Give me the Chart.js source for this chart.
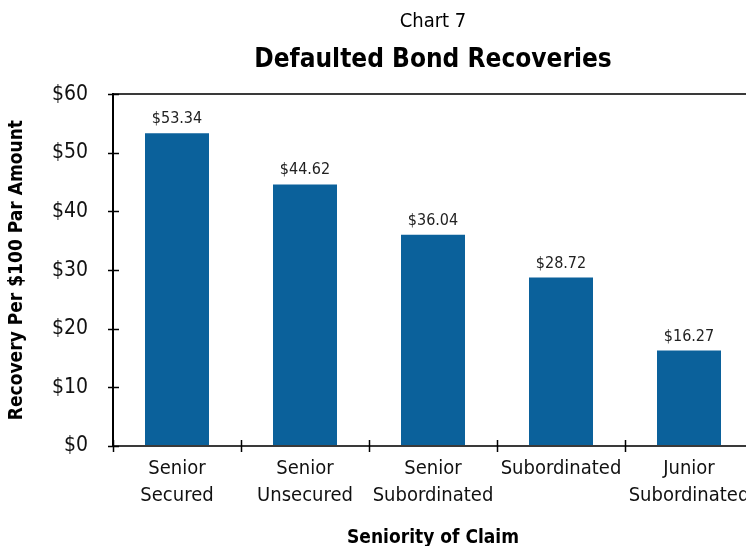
<!DOCTYPE html>
<html>
<head>
<meta charset="utf-8">
<title>Defaulted Bond Recoveries</title>
<script src="https://cdn.jsdelivr.net/npm/chart.js@4/dist/chart.umd.min.js"></script>
<style>
  html, body { margin: 0; padding: 0; background: #fff; overflow: hidden; }
  #wrap { width: 746px; height: 546px; overflow: hidden; position: relative; }
  canvas { display: block; }
</style>
</head>
<body>
<div id="wrap"><canvas id="chart" width="866" height="560"></canvas></div>
<script>
// Recovery per $100 par amount by seniority of claim
const categories = [
  ['Senior', 'Secured'],
  ['Senior', 'Unsecured'],
  ['Senior', 'Subordinated'],
  'Subordinated',
  ['Junior', 'Subordinated']
];
const recoveries = [53.34, 44.62, 36.04, 28.72, 16.27];
const yTicks = [0, 10, 20, 30, 40, 50, 60];

const FONT = "'Liberation Sans Narrow', 'Arial Narrow', 'DejaVu Sans Condensed', sans-serif";
const BAR_BLUE = '#0B619B';
const AXIS_DARK = '#3a3a3a';

// Tick marks that cross the axis lines on both sides
const crossTicks = {
  id: 'crossTicks',
  afterDraw(chart) {
    const { ctx } = chart;
    const xs = chart.scales.x, ys = chart.scales.y;
    ctx.save();
    ctx.strokeStyle = '#000';
    ctx.lineWidth = 1.5;
    const axisX = chart.chartArea.left;
    ys.ticks.forEach(t => {
      const y = Math.round(ys.getPixelForValue(t.value)) + 0.5;
      ctx.beginPath();
      ctx.moveTo(axisX - 5, y);
      ctx.lineTo(axisX + 6, y);
      ctx.stroke();
    });
    const axisY = chart.chartArea.bottom;
    const w = xs.getPixelForValue(1) - xs.getPixelForValue(0);
    for (let i = 0; i <= categories.length; i++) {
      const x = Math.round(xs.getPixelForValue(0) - w / 2 + i * w) + 0.5;
      ctx.beginPath();
      ctx.moveTo(x, axisY - 6);
      ctx.lineTo(x, axisY + 6);
      ctx.stroke();
    }
    ctx.restore();
  }
};

// Dollar value printed above each bar
const valueLabels = {
  id: 'valueLabels',
  afterDatasetsDraw(chart) {
    const { ctx } = chart;
    const meta = chart.getDatasetMeta(0);
    ctx.save();
    ctx.font = '16px ' + FONT;
    ctx.fillStyle = '#222';
    ctx.textAlign = 'center';
    ctx.textBaseline = 'alphabetic';
    meta.data.forEach((bar, i) => {
      ctx.fillText('$' + recoveries[i].toFixed(2), bar.x, bar.y - 10);
    });
    ctx.restore();
  }
};

new Chart(document.getElementById('chart'), {
  type: 'bar',
  data: {
    labels: categories,
    datasets: [{
      data: recoveries,
      backgroundColor: BAR_BLUE,
      borderWidth: 0,
      categoryPercentage: 1.0,
      barPercentage: 0.5
    }]
  },
  options: {
    responsive: false,
    animation: false,
    devicePixelRatio: 1,
    layout: { padding: { left: 0, right: 113, top: 0, bottom: 0 } },
    plugins: {
      legend: { display: false },
      tooltip: { enabled: false },
      title: {
        display: true,
        fullSize: false,
        text: 'Chart 7',
        color: '#000',
        font: { family: FONT, size: 20, weight: 'normal', lineHeight: 1.2 },
        padding: { top: 10, bottom: 11 }
      },
      subtitle: {
        display: true,
        fullSize: false,
        text: 'Defaulted Bond Recoveries',
        color: '#000',
        font: { family: FONT, size: 26, weight: 'bold', lineHeight: 1.2 },
        padding: { top: 0, bottom: 18 }
      }
    },
    scales: {
      x: {
        offset: true,
        grid: {
          display: true,
          offset: true,
          color: 'transparent',
          tickColor: 'transparent',
          tickLength: 6,
          drawOnChartArea: false
        },
        border: { display: true, color: AXIS_DARK, width: 2 },
        ticks: {
          color: '#111',
          padding: 3.5,
          maxRotation: 0,
          autoSkip: false,
          font: { family: FONT, size: 20, lineHeight: 1.35 }
        },
        title: {
          display: true,
          text: 'Seniority of Claim',
          color: '#000',
          font: { family: FONT, size: 19, weight: 'bold', lineHeight: 1.2 },
          padding: { top: 0, bottom: 11 }
        },
        afterFit(scale) { scale.height = 114; }
      },
      y: {
        min: 0,
        max: 60,
        afterBuildTicks(scale) { scale.ticks = yTicks.map(v => ({ value: v })); },
        grid: {
          color: ctx => (ctx.tick && ctx.tick.value === 60 ? AXIS_DARK : 'transparent'),
          lineWidth: 2,
          tickColor: 'transparent',
          tickLength: 5
        },
        border: { display: true, color: '#000', width: 2 },
        ticks: {
          color: '#111',
          padding: 20,
          font: { family: FONT, size: 21 },
          callback: v => '$' + v
        },
        title: {
          display: true,
          text: 'Recovery Per $100 Par Amount',
          color: '#000',
          font: { family: FONT, size: 19, weight: 'bold', lineHeight: 1.2 },
          padding: { top: 5.5, bottom: 0 }
        },
        afterFit(scale) { scale.width = 113; }
      }
    }
  },
  plugins: [crossTicks, valueLabels]
});
</script>
</body>
</html>
